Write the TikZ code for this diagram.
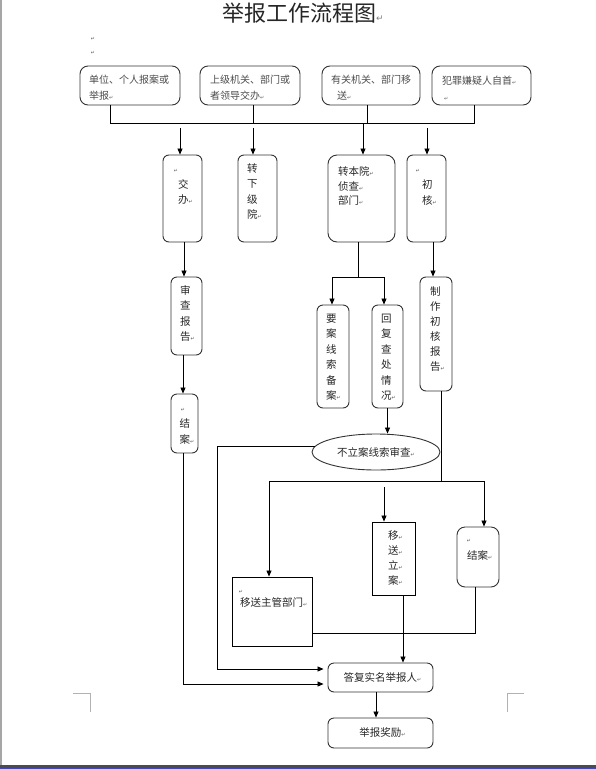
\documentclass[tikz,border=0pt]{standalone}
\usepackage{fontspec}
\setmainfont{Liberation Sans}
\newfontfamily\cjk{Noto Sans CJK SC}
\newfontfamily\dv{DejaVu Sans}
\usetikzlibrary{arrows.meta,shapes.geometric}
\newcommand\retmark{{\dv\fontsize{5}{5}\selectfont\textcolor{black!65}{↵}}}
\tikzset{
  rbox/.style={draw=black!80, line width=0.9pt, rounded corners=6pt, inner sep=0pt},
  sbox/.style={draw=black, line width=0.9pt, inner sep=0pt},
  txt/.style={font=\cjk\fontsize{10.5}{15.5}\selectfont, inner sep=0pt, text=black!85},
  toptxt/.style={font=\cjk\fontsize{10}{16}\selectfont, inner sep=0pt, text=black!70, align=left, anchor=west},
  ln/.style={line width=0.8pt},
  arr/.style={ln, -{Triangle[length=6pt,width=5pt]}},
  pmark/.style={inner sep=0pt}
}
\begin{document}
\begin{tikzpicture}[x=1pt,y=-1pt]
\useasboundingbox (0,0) rectangle (596,769);
% page decorations
\draw[gray!70, line width=1.5pt] (1,0) -- (1,765);
\fill[gray!60!black] (0,765) rectangle (596,768);
\fill[blue!45!gray] (0,768) rectangle (596,769);
\draw[gray!60, line width=0.7pt] (73,693) -- (90,693) -- (90,712);
\draw[gray!60, line width=0.7pt] (524,693) -- (507,693) -- (507,712);
% title
\node[font=\cjk\fontsize{22}{22}\selectfont, text=black!85, anchor=west, inner sep=0pt] (title) at (222,13) {举报工作流程图{\dv\fontsize{9}{9}\selectfont\textcolor{gray}{↵}}};
\node[pmark] (m1) at (93,39) {\retmark};
\node[pmark] (m2) at (93,53) {\retmark};
% top boxes
\node[rbox, rounded corners=8pt, minimum width=100, minimum height=39] (b1) at (130,85.5) {};
\node[rbox, rounded corners=8pt, minimum width=100, minimum height=39] (b2) at (250,85.5) {};
\node[rbox, rounded corners=8pt, minimum width=98, minimum height=39] (b3) at (371,85.5) {};
\node[rbox, rounded corners=8pt, minimum width=99, minimum height=39] (b4) at (481.5,85.5) {};
\node[toptxt] (t1) at (89,88) {单位、个人报案或\\举报\retmark};
\node[toptxt] (t2) at (210,88) {上级机关、部门或\\者领导交办\retmark};
\node[toptxt] (t3) at (331,88) {有关机关、部门移\\\hspace{6pt}送\retmark};
\node[toptxt] (t4) at (442,88) {犯罪嫌疑人自首\retmark\\\hspace{2pt}\retmark};
% bus
\coordinate (bus1) at (110,123); \coordinate (bus4) at (474,123);
\coordinate (bus2) at (253,123); \coordinate (bus3) at (367,123);
\draw[ln] (b1.south -| bus1) -- (bus1) -- (bus4) -- (b4.south -| bus4);
\draw[ln] (b2.south -| bus2) -- (bus2);
\draw[ln] (b3.south -| bus3) -- (bus3);
% second row
\node[rbox, minimum width=39, minimum height=87] (jb) at (182.5,198.5) {};
\node[rbox, minimum width=39, minimum height=87] (zx) at (257.5,198.5) {};
\node[rbox, rounded corners=9pt, minimum width=67, minimum height=87] (zb) at (361.5,198.5) {};
\node[rbox, minimum width=39, minimum height=87] (ch) at (426.5,198.5) {};
\node[pmark] (jbm) at (176,171) {\retmark};
\node[txt, align=left, anchor=west] (jbt) at (178,192) {交\\办\retmark};
\node[txt, align=left, anchor=west] (zxt) at (247,191.5) {转\\下\\级\\院\retmark};
\node[txt, align=left, anchor=west, font=\cjk\fontsize{10.5}{14.5}\selectfont] (zbt) at (338,186) {转本院\retmark\\侦查\retmark\\部门\retmark};
\node[pmark] (chm) at (418,171) {\retmark};
\node[txt, align=left, anchor=west] (cht) at (422,192.5) {初\\核\retmark};
\coordinate (a1) at (180,128); \draw[arr] (a1) -- (a1 |- jb.north);
\coordinate (a2) at (253,128); \draw[arr] (a2) -- (a2 |- zx.north);
\coordinate (a3) at (363,123); \draw[arr] (a3) -- (a3 |- zb.north);
\coordinate (a4) at (427,128); \draw[arr] (a4) -- (a4 |- ch.north);
% third row
\node[rbox, minimum width=31, minimum height=78] (sc) at (186.5,316) {};
\node[txt, align=left, anchor=west] (sct) at (180,313.5) {审\\查\\报\\告\retmark};
\node[rbox, minimum width=32, minimum height=103] (ja) at (333,356.5) {};
\node[txt, align=left, anchor=west] (jat) at (326,357) {要\\案\\线\\索\\备\\案\retmark};
\node[rbox, minimum width=31, minimum height=103] (hf) at (387.5,356.5) {};
\node[txt, align=left, anchor=west] (hft) at (381,357) {回\\复\\查\\处\\情\\况\retmark};
\node[rbox, minimum width=32, minimum height=114] (zz) at (436,334) {};
\node[txt, align=left, anchor=west, font=\cjk\fontsize{10.5}{15}\selectfont] (zzt) at (430,329.5) {制\\作\\初\\核\\报\\告\retmark};
\node[rbox, minimum width=27, minimum height=59] (jaL) at (184.5,423.5) {};
\node[pmark] (jaLm) at (183,410) {\retmark};
\node[txt, align=left, anchor=west] (jaLt) at (179.5,431.5) {结\\案\retmark};
\coordinate (c1) at (184,0); \draw[arr] (jb.south -| c1) -- (sc.north -| c1);
\coordinate (c2) at (183,0); \draw[arr] (sc.south -| c2) -- (jaL.north -| c2);
\coordinate (f0) at (358,277); \coordinate (fL) at (332,277); \coordinate (fR) at (384,277);
\draw[ln] (zb.south -| f0) -- (f0);
\draw[arr] (f0) -- (fL) -- (fL |- ja.north);
\draw[arr] (f0) -- (fR) -- (fR |- hf.north);
\coordinate (c4) at (433,0); \draw[arr] (ch.south -| c4) -- (zz.north -| c4);
% ellipse
\node[ellipse, draw=black!80, line width=0.9pt, minimum width=128, minimum height=36, txt] (bl) at (376,452) {不立案线索审查\retmark};
\draw[arr] (hf.south) -- (hf.south |- bl.north);
% fourth row
\node[sbox, minimum width=80, minimum height=69] (ysz) at (272,611.5) {};
\node[pmark] (yszm) at (241,592) {\retmark};
\node[txt, anchor=west] (yszt) at (240,603) {移送主管部门\retmark};
\node[sbox, minimum width=43, minimum height=73] (yl) at (393.5,558.5) {};
\node[txt, align=left, anchor=west, font=\cjk\fontsize{10.5}{15.3}\selectfont] (ylt) at (388,558) {移\retmark\\送\retmark\\立\retmark\\案\retmark};
\node[rbox, rounded corners=8pt, minimum width=42, minimum height=60] (jaR) at (478,557) {};
\node[pmark] (jaRm) at (469,541) {\retmark};
\node[txt, anchor=west] (jaRt) at (467,555) {结案\retmark};
% bottom boxes
\node[rbox, minimum width=105, minimum height=29, txt] (dF) at (380.5,677.5) {\hspace{4pt}答复实名举报人\retmark};
\node[rbox, minimum width=105, minimum height=30, txt] (jl) at (380.5,733) {\hspace{4pt}举报奖励\retmark};
% connectors lower part
\coordinate (c3) at (183,684);
\draw[arr, shorten >=4pt] (jaL.south -| c3) -- (c3) -- (c3 -| dF.west);
\coordinate (e1) at (314.5,446); \coordinate (e2) at (217,446); \coordinate (e3) at (217,669);
\draw[arr, shorten >=4pt] (e1) -- (e2) -- (e3) -- (e3 -| dF.west);
\coordinate (s0) at (441,481); \coordinate (sL) at (269,481); \coordinate (sR) at (484,481);
\draw[ln] (zz.south -| s0) -- (s0);
\draw[arr] (s0) -- (sL) -- (sL |- ysz.north);
\draw[arr] (s0) -- (sR) -- (sR |- jaR.north);
\coordinate (g1) at (384,487); \draw[arr] (g1) -- (g1 |- yl.north);
\coordinate (g2) at (403,0); \draw[arr] (yl.south -| g2) -- (dF.north -| g2);
\coordinate (h1) at (475,633); \draw[ln] (jaR.south -| h1) -- (h1) -- (h1 -| ysz.east);
\coordinate (k1) at (376,0); \draw[arr] (dF.south -| k1) -- (jl.north -| k1);
\end{tikzpicture}
\end{document}
